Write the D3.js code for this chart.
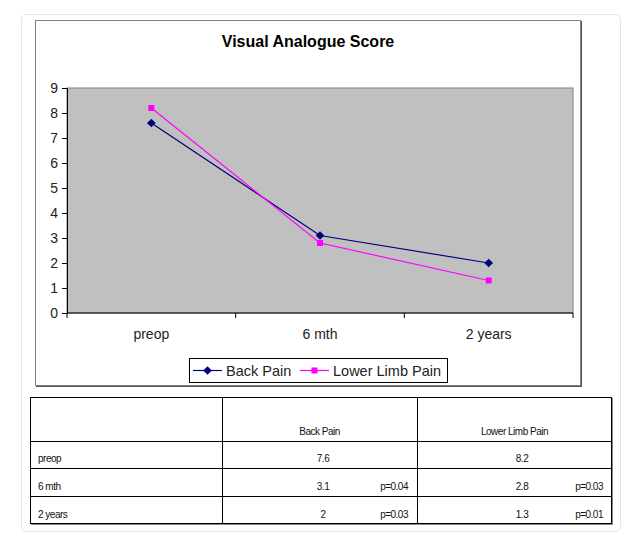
<!DOCTYPE html>
<html>
<head>
<meta charset="utf-8">
<script src="https://cdn.jsdelivr.net/npm/d3@7"></script>
<style>
  body { margin: 0; background: #fff; }
  svg { display: block; font-family: "Liberation Sans", Arial, sans-serif; }
</style>
</head>
<body>
<svg id="chart" width="631" height="544"></svg>
<script>
/* ---------- Data ---------- */
const categories = ["preop", "6 mth", "2 years"];
const backPain = [7.6, 3.1, 2.0];
const lowerLimbPain = [8.2, 2.8, 1.3];
const yTicks = [0, 1, 2, 3, 4, 5, 6, 7, 8, 9];
const tableHeaders = ["", "Back Pain", "Lower Limb Pain"];
const backPainP = ["", "p=0.04", "p=0.03"];
const lowerLimbP = ["", "p=0.03", "p=0.01"];
const backPainText = ["7.6", "3.1", "2"];
const lowerLimbText = ["8.2", "2.8", "1.3"];

const series = [
  { name: "Back Pain", values: backPain, color: "#000080", marker: "diamond" },
  { name: "Lower Limb Pain", values: lowerLimbPain, color: "#ff00ff", marker: "square" }
];

const svg = d3.select("#chart");

/* ---------- Card ---------- */
svg.append("rect")
  .attr("x", 21.5).attr("y", 14.5)
  .attr("width", 599).attr("height", 517)
  .attr("rx", 5)
  .attr("fill", "#fff")
  .attr("stroke", "#e6e6e6");

/* ---------- Chart box ---------- */
svg.append("rect")
  .attr("x", 36).attr("y", 21)
  .attr("width", 546).attr("height", 366)
  .attr("fill", "#555");
svg.append("rect")
  .attr("x", 35.5).attr("y", 20.5)
  .attr("width", 545).attr("height", 365)
  .attr("fill", "#fff")
  .attr("stroke", "#808080");

svg.append("text")
  .attr("x", 308).attr("y", 47)
  .attr("text-anchor", "middle")
  .attr("font-size", 16)
  .attr("font-weight", "bold")
  .text("Visual Analogue Score");

/* ---------- Scales ---------- */
const plot = { left: 67, right: 573, top: 88, bottom: 313 };

const x = d3.scaleBand()
  .domain(categories)
  .range([plot.left, plot.right]);

const y = d3.scaleLinear()
  .domain([0, 9])
  .range([plot.bottom, plot.top]);

svg.append("rect")
  .attr("x", plot.left).attr("y", plot.top)
  .attr("width", plot.right - plot.left)
  .attr("height", plot.bottom - plot.top)
  .attr("fill", "#c0c0c0")
  .attr("stroke", "#808080");

/* y axis */
const yAxis = svg.append("g")
  .attr("transform", `translate(${plot.left},0)`)
  .call(d3.axisLeft(y).tickValues(yTicks).tickSize(5).tickPadding(4));
yAxis.select(".domain").attr("stroke", "#000");
yAxis.selectAll("line").attr("stroke", "#000");
yAxis.selectAll("text")
  .attr("font-size", 14)
  .attr("fill", "#222")
  .attr("font-family", "Liberation Sans, Arial, sans-serif");

/* x axis: ticks between categories */
const xAxis = svg.append("g")
  .attr("transform", `translate(0,${plot.bottom})`);
xAxis.append("line")
  .attr("x1", plot.left).attr("x2", plot.right)
  .attr("stroke", "#000");
const boundaries = categories.map(c => x(c)).concat([x(categories[categories.length - 1]) + x.bandwidth()]);
xAxis.selectAll(".xtick")
  .data(boundaries)
  .enter().append("line")
  .attr("class", "xtick")
  .attr("x1", d => d).attr("x2", d => d)
  .attr("y1", 0).attr("y2", 5)
  .attr("stroke", "#000");
xAxis.selectAll(".xlabel")
  .data(categories)
  .enter().append("text")
  .attr("class", "xlabel")
  .attr("x", d => x(d) + x.bandwidth() / 2)
  .attr("y", 26)
  .attr("text-anchor", "middle")
  .attr("font-size", 14)
  .attr("fill", "#222")
  .text(d => d);

/* ---------- Lines ---------- */
const line = d3.line()
  .x((d, i) => x(categories[i]) + x.bandwidth() / 2)
  .y(d => y(d));

const diamond = d3.symbol().type(d3.symbolDiamond2).size(48);

function drawMarker(sel, s, cx, cy) {
  if (s.marker === "diamond") {
    sel.append("path")
      .attr("d", diamond())
      .attr("transform", `translate(${cx},${cy})`)
      .attr("fill", s.color);
  } else {
    sel.append("rect")
      .attr("x", cx - 3).attr("y", cy - 3)
      .attr("width", 6).attr("height", 6)
      .attr("fill", s.color);
  }
}

series.forEach(s => {
  svg.append("path")
    .datum(s.values)
    .attr("d", line)
    .attr("fill", "none")
    .attr("stroke", s.color)
    .attr("stroke-width", 1.2);
  const g = svg.append("g");
  s.values.forEach((v, i) => {
    drawMarker(g, s, x(categories[i]) + x.bandwidth() / 2, y(v));
  });
});

/* ---------- Legend ---------- */
const legend = svg.append("g");
legend.append("rect")
  .attr("x", 189.5).attr("y", 358.5)
  .attr("width", 258).attr("height", 24)
  .attr("fill", "#fff")
  .attr("stroke", "#000");

const legendItems = [
  { s: series[0], x0: 193, tx: 226 },
  { s: series[1], x0: 300, tx: 333 }
];
legendItems.forEach(it => {
  legend.append("line")
    .attr("x1", it.x0).attr("x2", it.x0 + 29)
    .attr("y1", 370.5).attr("y2", 370.5)
    .attr("stroke", it.s.color)
    .attr("stroke-width", 1.2);
  drawMarker(legend, it.s, it.x0 + 14.5, 370.5);
  legend.append("text")
    .attr("x", it.tx).attr("y", 375.5)
    .attr("font-size", 14.5)
    .attr("fill", "#222")
    .text(it.s.name);
});

/* ---------- Table ---------- */
const tbl = { left: 30, right: 612, top: 397, bottom: 524 };
const colX = [30, 222, 417, 612];
const rowY = [397, 441, 468, 496, 524];

const table = svg.append("g");
table.append("rect")
  .attr("x", tbl.left + 1).attr("y", tbl.top + 1)
  .attr("width", tbl.right - tbl.left).attr("height", tbl.bottom - tbl.top)
  .attr("fill", "#888");
table.append("rect")
  .attr("x", tbl.left + 0.5).attr("y", tbl.top + 0.5)
  .attr("width", tbl.right - tbl.left - 1).attr("height", tbl.bottom - tbl.top - 1)
  .attr("fill", "#fff")
  .attr("stroke", "#000");

colX.slice(1, -1).forEach(cx => {
  table.append("line")
    .attr("x1", cx + 0.5).attr("x2", cx + 0.5)
    .attr("y1", tbl.top).attr("y2", tbl.bottom)
    .attr("stroke", "#000");
});
rowY.slice(1, -1).forEach(ry => {
  table.append("line")
    .attr("x1", tbl.left).attr("x2", tbl.right)
    .attr("y1", ry + 0.5).attr("y2", ry + 0.5)
    .attr("stroke", "#000");
});

const cellText = (tx, ty, txt, anchor) => table.append("text")
  .attr("x", tx).attr("y", ty)
  .attr("text-anchor", anchor)
  .attr("font-size", 10)
  .attr("letter-spacing", -0.5)
  .attr("fill", "#111")
  .text(txt);

cellText((colX[1] + colX[2]) / 2, 435, tableHeaders[1], "middle");
cellText((colX[2] + colX[3]) / 2, 435, tableHeaders[2], "middle");

categories.forEach((c, i) => {
  const by = rowY[i + 2] - 6;
  cellText(38, by, c, "start");
  cellText(colX[1] + 101, by, backPainText[i], "middle");
  cellText(colX[2] + 105, by, lowerLimbText[i], "middle");
  if (backPainP[i]) cellText(colX[1] + 186, by, backPainP[i], "end");
  if (lowerLimbP[i]) cellText(colX[2] + 186, by, lowerLimbP[i], "end");
});
</script>
</body>
</html>
